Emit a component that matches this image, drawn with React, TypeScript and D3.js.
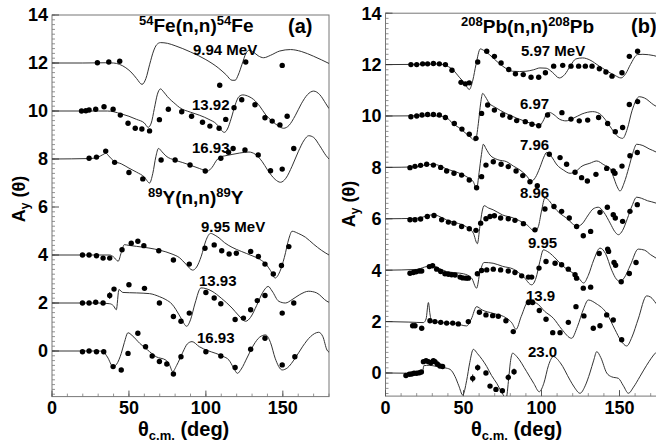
import React from 'react';
import * as d3 from 'd3';

type Pt = [number, number];
type DPt = [number, number] | [number, number, number];

// ---------- 54Fe(n,n)54Fe ----------
const FE_994_CURVE: Pt[] = [[0,0],[20,0],[35,0.01],[40,0],[44,-0.06],[48,-0.2],[52,-0.42],[55,-0.65],[58.5,-0.89],[61,-0.65],[63.5,-0.05],[66,0.5],[68,0.76],[70.5,0.85],[75,0.82],[80,0.72],[90,0.46],[100,0.14],[108,-0.2],[113,-0.48],[117,-0.72],[119,-0.72],[121,-0.5],[123.5,-0.05],[126,0.4],[128,0.53],[131,0.45],[134,0.3],[137.5,0.22],[142,0.32],[148,0.5],[155,0.56],[162,0.48],[170,0.28],[180,-0.02]];
const FE_994_DATA: DPt[] = [[29.5,0.01],[36.9,0.04],[44,0.07],[109,-0.93],[125.9,0.04],[149.6,-0.1]];

const FE_1392_CURVE: Pt[] = [[0,0],[30,0],[36,0],[40,-0.03],[45,-0.12],[50,-0.22],[55,-0.35],[60,-0.5],[62.5,-0.68],[64.5,-0.5],[66.5,0.1],[68.5,0.7],[70.5,0.92],[72.5,0.8],[75,0.6],[80,0.3],[83,0.14],[90,-0.05],[96,-0.18],[102,-0.35],[107,-0.55],[110,-0.8],[112,-0.89],[114,-0.75],[116.5,-0.3],[119,0.25],[121.5,0.6],[124,0.67],[128,0.6],[131,0.48],[135,0.2],[139,-0.17],[143,-0.42],[147,-0.62],[150.5,-0.72],[154,-0.6],[158,-0.2],[162,0.3],[166,0.68],[170,0.83],[174,0.68],[178,0.3],[180,0.1]];
const FE_1392_DATA: DPt[] = [[19.2,0],[22,0.01],[24.1,0.04],[28.4,0.07],[33.8,0.18],[39.7,0.07],[44.4,-0.17],[49.4,-0.51],[54.1,-0.72],[58.4,-0.75],[63.4,-0.83],[69.8,-0.36],[75.6,0.07],[84.3,-0.03],[90.7,-0.22],[97.8,-0.47],[102.6,-0.63],[108.6,-0.72],[112.9,-0.35],[118.3,0.14],[123.3,0.47],[131.9,0.26],[138.4,-0.28],[143.1,-0.42],[148.1,-0.58],[152.8,-0.22]];

const FE_1693_CURVE: Pt[] = [[0,0],[25,0.02],[30,0.08],[33,0.18],[35,0.24],[37,0.12],[40,-0.08],[45,-0.2],[50,-0.38],[55,-0.55],[60,-0.75],[63.4,-1.0],[65.5,-0.6],[67.5,0.1],[69.2,0.44],[71.5,0.3],[74,0.13],[80,-0.05],[85,-0.15],[90,-0.26],[96,-0.4],[101,-0.5],[104,-0.35],[107,-0.05],[109,0.07],[113,0.14],[117,0.19],[122,0.25],[128,0.29],[132,0.2],[136.5,-0.1],[140,-0.45],[145,-0.85],[148.5,-0.97],[152,-0.8],[156,-0.3],[160,0.3],[164,0.8],[166.8,0.97],[170,0.9],[174,0.55],[178,0.15],[180,0]];
const FE_1693_DATA: DPt[] = [[24.1,0.03],[28.9,0.08],[34.9,0.33],[40.7,-0.14],[50,-0.56],[59,-0.83],[70.9,-0.04],[80,-0.04],[89.7,-0.25],[99.6,-0.5],[109.7,0.03],[114.7,0.28],[117.7,0.44],[125.4,0.38],[134,0.17],[142,-0.49],[149.6,-0.42],[157.1,0.44]];

// ---------- 89Y(n,n)89Y ----------
const Y_995_CURVE: Pt[] = [[0,0],[30,0],[37.5,0],[40,-0.08],[43,-0.26],[45,0.1],[47,0.43],[50,0.4],[55,0.36],[63,0.29],[70,0.2],[78,0.04],[83,-0.12],[87,-0.38],[91.4,-0.63],[94,-0.5],[97,-0.05],[100,0.6],[103,0.9],[106,0.82],[108.6,0.71],[112,0.52],[117,0.32],[123,0.15],[130,-0.03],[135,-0.18],[139,-0.38],[142,-0.65],[145,-0.96],[148,-0.7],[151,-0.1],[154,0.7],[156,0.99],[160,0.9],[164.7,0.74],[170,0.45],[175,0.2],[180,0]];
const Y_995_DATA: DPt[] = [[19.8,0],[24.1,0],[28.9,-0.03],[33.2,-0.13],[37.5,-0.13],[45.5,0.22],[51.5,0.49],[55.8,0.57],[59.7,0.39],[69.4,0.18],[78.9,-0.21],[89.2,-0.38],[99.4,0.28],[105.4,0.42],[110.3,0.18],[115.1,0.04],[119.8,0.07],[129.1,0.15],[134.1,-0.06],[138.4,-0.38],[143.8,-0.79],[149.1,-0.44],[153.9,0.35]];

const Y_1393_CURVE: Pt[] = [[0,0],[30,0],[37.5,-0.03],[40,-0.12],[41.8,-0.28],[43.5,0.56],[46,0.44],[55,0.42],[63.4,0.39],[70,0.26],[74,0.14],[78,-0.05],[80.6,-0.28],[84,-0.65],[87.5,-0.97],[90,-0.7],[93,0],[96.8,0.63],[100,0.6],[104,0.49],[110,0.2],[117,-0.21],[121,-0.5],[125.9,-0.76],[129,-0.6],[133,-0.1],[137,0.45],[140.5,0.69],[143,0.5],[147.4,0.07],[151.7,0],[156,0.14],[161,0.35],[166.8,0.49],[172,0.42],[178.7,0.07],[180,0.03]];
const Y_1393_DATA: DPt[] = [[19.8,0],[24.1,0],[28.4,0.03],[33.2,0],[37.5,0.31,0.14],[40.3,0.58],[50,0.76],[60.1,0.61],[69.8,0],[78.9,-0.56],[83.8,-0.76],[89.2,-0.42],[100,0.44],[105.4,0.21],[109.7,-0.03],[119,-0.69],[124.4,-0.63],[129.1,-0.28],[133.4,0.1],[138.4,0.31],[149.6,-0.42],[157.1,0]];

const Y_1693_CURVE: Pt[] = [[0,0],[30,0],[33,-0.02],[36,-0.25],[39.7,-0.65],[42,-0.55],[45,-0.1],[47,0.35],[49.4,0.76],[52,0.65],[57,0.32],[62,0.05],[67.7,-0.24],[74,-0.38],[76.5,-0.6],[78.4,-0.86],[81,-0.6],[85,-0.05],[88,0.3],[91,0.39],[95.7,0.18],[101,0.02],[106.5,-0.1],[111,-0.22],[115,-0.38],[118,-0.7],[120.5,-0.93],[123,-0.75],[127,-0.25],[131,0.25],[135,0.58],[138.8,0.67],[142,0.35],[145,-0.3],[149.6,-0.79],[153,-0.7],[158,-0.3],[163,0.2],[168,0.6],[173.3,0.78],[176,0.6],[178.7,0.04],[180,-0.05]];
const Y_1693_DATA: DPt[] = [[19.8,-0.03],[24.1,0],[28.9,-0.03],[33.6,-0.03],[39.7,-0.65],[45,-0.79],[49.4,-0.1],[55.8,0.74],[60.8,0.18],[65.1,-0.21],[69.8,-0.44],[74.6,-0.54],[78.9,-0.96],[83.8,-0.24],[100,-0.03],[109.7,-0.21],[119,-0.69],[129.1,0.07],[138.4,0.53],[149.6,-0.58],[157.8,-0.24]];

// ---------- 208Pb(n,n)208Pb ----------
const PB_597_CURVE: Pt[] = [[0,0],[30,0.02],[34,0.03],[38,-0.02],[43,-0.19],[47.3,-0.49],[51,-0.75],[53.7,-0.97],[56,-0.6],[58,0],[60.8,0.61],[63,0.55],[66.6,0.39],[70,0.2],[75.1,-0.06],[81.5,-0.26],[86,-0.27],[90,-0.26],[95,-0.2],[99,-0.13],[103,-0.14],[107,-0.3],[111.4,-0.52],[115,-0.38],[118.5,-0.05],[122,0.22],[126.4,0.26],[131,0.18],[137,-0.06],[142,-0.25],[147,-0.42],[151,-0.52],[154,-0.35],[157,0],[161.6,0.39],[165,0.4],[172,0.35],[180,0.2]];
const PB_597_DATA: DPt[] = [[16.3,0],[20,0],[23.8,0.03],[27,0.03],[30.7,0.04],[34.5,0.03],[38.4,0],[42.6,-0.22],[48.4,-0.69],[51.2,-0.75],[53.7,-0.71],[59.1,0.1],[64.9,0.52],[69.8,0.32],[74.1,0.06],[79,-0.19],[83.3,-0.36],[88.3,-0.39],[93.3,-0.49],[98.2,-0.49],[102.5,-0.32],[107.8,-0.06],[113.6,-0.03],[118.9,-0.06],[123.8,-0.06],[128.1,-0.06],[132.4,-0.06],[137.1,-0.16],[141.3,-0.29],[145.2,-0.45],[151.6,-0.32],[156.3,0.32],[161.6,0.52]];

const PB_697_CURVE: Pt[] = [[0,0],[30,0.01],[35,0],[40,-0.1],[43,-0.29],[47,-0.45],[51.6,-0.68],[55,-0.85],[57.6,-0.97],[59.5,-0.3],[61,0.5],[62.3,0.88],[64,0.75],[66.6,0.49],[70,0.35],[77.2,0.1],[84,-0.08],[90,-0.22],[95,-0.32],[98.6,-0.38],[101,-0.2],[103,0.05],[105,0.14],[108,0.05],[111.4,-0.12],[115.7,-0.19],[120,-0.1],[126,0.08],[132.8,0.17],[137,0.1],[141,-0.15],[145,-0.5],[149,-0.8],[152,-0.87],[155,-0.5],[158,0.2],[162.7,0.75],[166,0.7],[172,0.43],[180,0.2]];
const PB_697_DATA: DPt[] = [[16.3,-0.03],[20,0],[23.4,0.04],[27,0.06],[30.7,0.06],[34.5,0.04],[38.4,-0.06],[44.1,-0.29],[49,-0.51],[53.7,-0.71],[58,-0.87],[61.6,0.1],[65.5,0.43],[69.8,0.23],[75.1,0.04],[79.8,-0.05],[84.1,-0.18],[89.6,-0.22],[93.9,-0.32],[98.2,-0.38],[103.9,0.04],[113.1,0.13],[118.9,-0.12],[124.2,-0.19],[129.6,-0.16],[136.6,-0.06],[142.4,-0.29],[147.3,-0.61],[152,-0.45],[156.3,0.45],[161.6,0.56]];

const PB_796_CURVE: Pt[] = [[0,0],[20,0.02],[26,0.1],[30.7,0.12],[35,0.06],[39,-0.06],[45,-0.17],[50,-0.3],[53,-0.4],[56.3,-0.56],[58.4,-0.84],[60,-0.2],[61.5,0.5],[62.7,0.9],[64.5,0.72],[67,0.48],[72,0.3],[77.7,0.22],[82,0.05],[86.2,-0.1],[90,-0.3],[93.7,-0.53],[96,-0.4],[99,0],[101.5,0.4],[103.3,0.58],[106,0.45],[110,0.09],[114,-0.1],[118.3,-0.23],[122,-0.15],[126,0.05],[131,0.16],[135.4,0.25],[140,0.1],[144,-0.04],[146,-0.35],[148.5,-0.75],[150.3,-0.92],[153,-0.6],[156,0],[158.5,0.55],[161,0.9],[165,0.85],[169,0.72],[173.4,0.6],[180,0.3]];
const PB_796_DATA: DPt[] = [[15.7,-0.01],[18.9,0.04],[22.5,0.08],[26.4,0.12],[30.7,0.09],[35.4,0],[39.2,-0.14],[43.9,-0.23],[48.8,-0.3],[53.7,-0.49],[58.4,-0.79],[61.6,-0.36],[64.4,0.09],[69.1,0.22],[74.1,0.12],[78.7,0.03],[83.7,-0.14],[88,-0.32],[92.6,-0.56],[97.3,-0.71],[105,0.51],[111.9,0.38],[116.1,0.12],[121.5,-0.19],[125.7,-0.4],[129.4,-0.53],[134.9,-0.27],[141.8,-0.04],[146,-0.14],[147.1,-0.23],[151.6,0.05],[156.7,0.45],[161.4,0.58]];

const PB_896_CURVE: Pt[] = [[0,0],[20,0.02],[26,0.1],[30.7,0.16],[35,0.08],[39,-0.04],[45,-0.15],[52,-0.32],[56.3,-0.56],[58.9,-0.97],[60.5,-0.3],[62,0.3],[63.2,0.51],[66,0.42],[69,0.35],[75,0.15],[82,0.03],[86,-0.08],[90.5,-0.23],[95.8,-0.49],[98,-0.3],[100,0.3],[102.2,0.81],[105,0.7],[107.6,0.48],[112,0.2],[116,0.03],[120,-0.2],[122.5,-0.3],[126,-0.2],[130,0.15],[133,0.38],[136.4,0.45],[140,0.25],[144,-0.17],[147,-0.5],[149.3,-0.62],[152,-0.45],[155,0],[158,0.5],[161,0.84],[164,0.8],[168,0.7],[173.4,0.61],[180,0.35]];
const PB_896_DATA: DPt[] = [[15.7,-0.04],[18.9,-0.04],[22.5,-0.01],[26.8,0.09],[31.1,0.13],[36,-0.04],[40.3,-0.13],[43.9,-0.17],[48.8,-0.3],[53.7,-0.39],[58,-0.45],[61,-0.17],[64.4,0],[67,0.09],[69.8,0.12],[73.8,0.03],[78.7,0],[83,-0.06],[88.4,-0.19],[95.8,-0.43],[102.2,0.38],[108,0.48],[112.9,0.29],[117.8,0.03],[122.5,-0.3],[126.8,-0.66],[131.5,-0.49],[137.5,0.25],[142.2,0.45],[146,0.16],[147.3,0.03],[152,-0.1],[156.7,0.29],[161.4,0.55]];

const PB_995_CURVE: Pt[] = [[0,0],[20,0.03],[25,0.12],[29.6,0.18],[34,0.08],[39,-0.05],[45,-0.1],[50,-0.14],[55.2,-0.31],[58.4,-0.7],[60.5,-0.1],[63.2,0.3],[69,0.27],[75,0.15],[82,0.04],[88.4,-0.25],[93.7,-0.57],[96.5,-0.3],[99,0.35],[101.2,0.79],[104,0.72],[108,0.52],[111.9,0.27],[116,0.05],[120.4,-0.12],[124,-0.32],[127,-0.5],[130,-0.2],[133.5,0.4],[137.5,0.86],[141,0.65],[145,0],[148,-0.35],[150.3,-0.44],[153,-0.3],[157,0.2],[162,0.82],[166,0.78],[170,0.6],[173.4,0.47],[180,0.15]];
const PB_995_DATA: DPt[] = [[15.7,-0.12],[17.8,-0.09],[19.6,-0.06],[21.7,-0.03],[23.2,-0.03],[28.1,0.14],[30.2,0.17],[32.8,0.04],[35.4,-0.05],[38.1,-0.14],[40.3,-0.16],[42.4,-0.18],[44.6,-0.19],[47.8,-0.27],[49.5,-0.3],[51.6,-0.31],[53.1,-0.31],[58.9,-0.14],[61.6,-0.01],[64.9,0.01],[69.1,0.04],[73.8,0.01],[78.7,-0.03],[83,-0.09],[87.3,-0.22],[91.6,-0.27],[93.7,-0.27],[98.4,0.08],[102.9,0.34],[108.7,0.27],[112.9,0.21],[117.2,0.04],[121.5,-0.18],[122.5,-0.31],[126.8,-0.7],[131.5,-0.66],[137,0.65],[142.4,0.82],[143,0.73],[146.5,0.3],[147.5,0.19],[151.1,-0.45],[156.3,-0.13],[160.6,0.3]];

const PB_139_CURVE: Pt[] = [[0,0],[15,-0.02],[24.3,-0.04],[26,0.1],[27.5,0.74],[28.5,0.3],[29.5,0.02],[35,-0.04],[45,-0.08],[52,-0.17],[55,0.1],[58.4,0.58],[62,0.45],[69,0.32],[77.7,0.13],[81,-0.05],[83.7,-0.3],[87,0.2],[91.6,0.78],[96.9,0.71],[102,0.4],[107.6,0.13],[113,-0.3],[119.3,-0.65],[123,-0.2],[127,0.5],[130,0.84],[135,0.7],[141.8,0.32],[147,-0.3],[151,-0.75],[154.6,-0.95],[158,-0.6],[162,0.1],[167.4,1.0],[170,0.95],[173.4,0.71],[180,0.2]];
const PB_139_DATA: DPt[] = [[17.4,-0.16],[18.9,-0.16],[23.2,-0.26],[28.5,0.03],[31.7,0],[35.4,-0.03],[39.2,-0.06],[43.1,-0.06],[46.7,-0.09],[53.1,0],[60.2,0.36],[64.4,0.26],[68.7,0.23],[72.3,0.21],[77.2,0.03],[81.9,-0.39],[91.6,0.74],[94.3,0.74],[98.6,0.43],[102.9,0.09],[107.2,-0.43],[111.9,-0.43],[117.2,-0.03],[122.1,0.58],[127.2,0.22],[133.2,-0.26],[137.5,-0.16],[141.8,0.26],[146,0.06],[151.4,-0.71]];

const PB_230_CURVE: Pt[] = [[0,0],[15,-0.01],[23,0],[24,0.1],[24.5,0.28],[28,0.3],[33,0.25],[38,0.2],[41.4,0.14],[44.6,-0.14],[47,-0.5],[49.5,-0.86],[52,-0.3],[54,0.4],[56.3,0.92],[59,0.75],[64.9,0.25],[68,-0.1],[71.3,-0.4],[74.5,-0.75],[77.3,-0.99],[79,-0.2],[80,0.4],[81.5,0.77],[84,0.65],[90.5,0.05],[95,-0.4],[98.6,-0.73],[101.5,-0.4],[104.5,0.3],[107.6,0.64],[112,0.4],[118.3,-0.28],[121,-0.55],[124.7,-0.79],[128,-0.5],[131,0],[133.5,0.5],[135.4,0.83],[138,0.6],[141.8,0],[145,-0.15],[149.3,-0.21],[152.5,-0.5],[155.7,-0.79],[159,-0.55],[163,-0.15],[167.4,0.3],[173.4,0.8],[180,1.0]];
const PB_230_DATA: DPt[] = [[13.1,-0.1],[15.3,-0.05],[16.8,-0.04],[18.3,-0.01],[20,-0.01],[21.7,0.01],[23,0.04],[24.3,0.44],[26,0.48],[27.5,0.44],[29,0.4],[30.7,0.48],[31.7,0.44],[33.2,0.35],[34.9,0.27],[36.6,0.25],[55.9,-0.21,0.15],[59.1,0.21,0.12],[64.4,0],[67,-0.51],[70.8,-0.64],[74.9,-0.69],[78.7,-0.17,0.12],[82.4,0.05,0.12]];

// Offsets applied to each energy so the curves stack vertically
const OFFSETS_A = [12, 10, 8, 4, 2, 0];
const OFFSETS_B = [12, 10, 8, 6, 4, 2, 0];
const ENERGY_LABELS_A = ['9.94 MeV', '13.92', '16.93', '9.95 MeV', '13.93', '16.93'];
const ENERGY_LABELS_B = ['5.97 MeV', '6.97', '7.96', '8.96', '9.95', '13.9', '23.0'];
const CURVES_A = [FE_994_CURVE, FE_1392_CURVE, FE_1693_CURVE, Y_995_CURVE, Y_1393_CURVE, Y_1693_CURVE];
const DATA_A = [FE_994_DATA, FE_1392_DATA, FE_1693_DATA, Y_995_DATA, Y_1393_DATA, Y_1693_DATA];
const CURVES_B = [PB_597_CURVE, PB_697_CURVE, PB_796_CURVE, PB_896_CURVE, PB_995_CURVE, PB_139_CURVE, PB_230_CURVE];
const DATA_B = [PB_597_DATA, PB_697_DATA, PB_796_DATA, PB_896_DATA, PB_995_DATA, PB_139_DATA, PB_230_DATA];

const X_TICKS = [0, 50, 100, 150];
const Y_TICKS = [0, 2, 4, 6, 8, 10, 12, 14];

const FONT = '"Liberation Sans", Arial, Helvetica, sans-serif';

interface PanelProps {
  id: string;
  xRange: [number, number];
  yDomain: [number, number];
  yRange: [number, number];
  offsets: number[];
  curves: Pt[][];
  data: DPt[][];
  energyLabels: string[];
  energyPos: [number, number][];
  titleX: number;
  yTitleX: number;
  yTitleY: number;
}

function Panel(p: PanelProps) {
  const x = d3.scaleLinear().domain([0, 180]).range(p.xRange);
  const y = d3.scaleLinear().domain(p.yDomain).range(p.yRange);
  const [xl, xr] = p.xRange;
  const [yb, yt] = p.yRange;
  const minorY = d3.range(Math.ceil(p.yDomain[0] / 0.2) * 0.2, p.yDomain[1] + 0.001, 0.2);
  const minorX = d3.range(0, 181, 10);

  return (
    <g>
      <defs>
        <clipPath id={`clip-${p.id}`}>
          <rect x={xl} y={yt} width={xr - xl} height={yb - yt} />
        </clipPath>
      </defs>
      <rect x={xl} y={yt} width={xr - xl} height={yb - yt} fill="none" stroke="#777" strokeWidth={1} />
      {/* y ticks */}
      {minorY.map((v, i) => (
        <line key={`my${i}`} x1={xl} x2={xl + 3} y1={y(v)} y2={y(v)} stroke="#777" strokeWidth={0.8} />
      ))}
      {Y_TICKS.map((v) => (
        <line key={`Y${v}`} x1={xl} x2={xl + 7} y1={y(v)} y2={y(v)} stroke="#555" strokeWidth={1} />
      ))}
      {/* x ticks */}
      {minorX.map((v) => (
        <line key={`mx${v}`} x1={x(v)} x2={x(v)} y1={yb} y2={yb - 3} stroke="#777" strokeWidth={0.8} />
      ))}
      {X_TICKS.map((v) => (
        <line key={`X${v}`} x1={x(v)} x2={x(v)} y1={yb} y2={yb - 6} stroke="#555" strokeWidth={1} />
      ))}
      {Y_TICKS.map((v) => (
        <text key={`yl${v}`} x={xl - 4} y={y(v)} dy="0.36em" textAnchor="end" fontSize={18} fontWeight="bold" fontFamily={FONT}>
          {v}
        </text>
      ))}
      {X_TICKS.map((v) => (
        <text key={`xl${v}`} x={x(v)} y={414} textAnchor="middle" fontSize={18} fontWeight="bold" fontFamily={FONT}>
          {v}
        </text>
      ))}
      <g clipPath={`url(#clip-${p.id})`}>
        {p.curves.map((c, i) => {
          const line = d3
            .line<Pt>()
            .x((d) => x(d[0]))
            .y((d) => y(d[1] + p.offsets[i]))
            .curve(d3.curveMonotoneX);
          return <path key={`c${i}`} d={line(c) || ''} fill="none" stroke="#333" strokeWidth={1} />;
        })}
        {p.data.map((series, i) =>
          series.map((d, j) => {
            const cx = x(d[0]);
            const cy = y(d[1] + p.offsets[i]);
            const err = d.length > 2 ? (d as number[])[2] : 0;
            return (
              <g key={`d${i}-${j}`}>
                {err > 0 && (
                  <line x1={cx} x2={cx} y1={y(d[1] + p.offsets[i] - err)} y2={y(d[1] + p.offsets[i] + err)} stroke="#000" strokeWidth={1} />
                )}
                <circle cx={cx} cy={cy} r={2.7} fill="#000" />
              </g>
            );
          })
        )}
      </g>
      {p.energyLabels.map((t, i) => (
        <text key={`e${i}`} x={p.energyPos[i][0]} y={p.energyPos[i][1]} fontSize={15} fontWeight="bold" fontFamily={FONT}>
          {t}
        </text>
      ))}
      <text x={p.titleX} y={436} fontSize={20} fontWeight="bold" fontFamily={FONT}>
        θ<tspan fontSize={13} dy={4}>c.m.</tspan>
        <tspan dy={-4}> (deg)</tspan>
      </text>
      <text transform={`translate(${p.yTitleX},${p.yTitleY}) rotate(-90)`} textAnchor="middle" fontSize={18} fontWeight="bold" fontFamily={FONT}>
        A<tspan fontSize={12} dy={4}>y</tspan>
        <tspan dy={-4}> (θ)</tspan>
      </text>
    </g>
  );
}

function Nuclide({ x, y, a, el }: { x: number; y: number; a: string; el: string }) {
  return (
    <text x={x} y={y} fontSize={19} fontWeight="bold" fontFamily={FONT}>
      <tspan fontSize={13} dy={-7}>{a}</tspan>
      <tspan dy={7}>{el}(n,n)</tspan>
      <tspan fontSize={13} dy={-7}>{a}</tspan>
      <tspan dy={7}>{el}</tspan>
    </text>
  );
}

export default function App() {
  return (
    <svg width={656} height={442} style={{ position: 'absolute', left: 0, top: 0, background: '#fff' }} xmlns="http://www.w3.org/2000/svg">
      <rect width={656} height={442} fill="#fff" />
      <Panel
        id="a"
        xRange={[52, 329]}
        yDomain={[-1.9, 14]}
        yRange={[396.6, 15]}
        offsets={OFFSETS_A}
        curves={CURVES_A}
        data={DATA_A}
        energyLabels={ENERGY_LABELS_A}
        energyPos={[[193, 55], [192, 110], [192, 153], [201, 232], [199, 286], [197, 343]]}
        titleX={138}
        yTitleX={25}
        yTitleY={199}
      />
      <Nuclide x={139} y={32} a="54" el="Fe" />
      <text x={288} y={33} fontSize={20} fontWeight="bold" fontFamily={FONT}>(a)</text>
      <Nuclide x={148} y={204} a="89" el="Y" />
      <Panel
        id="b"
        xRange={[385.5, 666.3]}
        yDomain={[-0.9, 14]}
        yRange={[396.1, 13.2]}
        offsets={OFFSETS_B}
        curves={CURVES_B}
        data={DATA_B}
        energyLabels={ENERGY_LABELS_B}
        energyPos={[[521, 56], [520, 109], [520, 150], [520, 198], [528, 248], [526, 301], [528, 357]]}
        titleX={471}
        yTitleX={355}
        yTitleY={204}
      />
      <Nuclide x={461} y={33} a="208" el="Pb" />
      <text x={631} y={33} fontSize={20} fontWeight="bold" fontFamily={FONT}>(b)</text>
    </svg>
  );
}
